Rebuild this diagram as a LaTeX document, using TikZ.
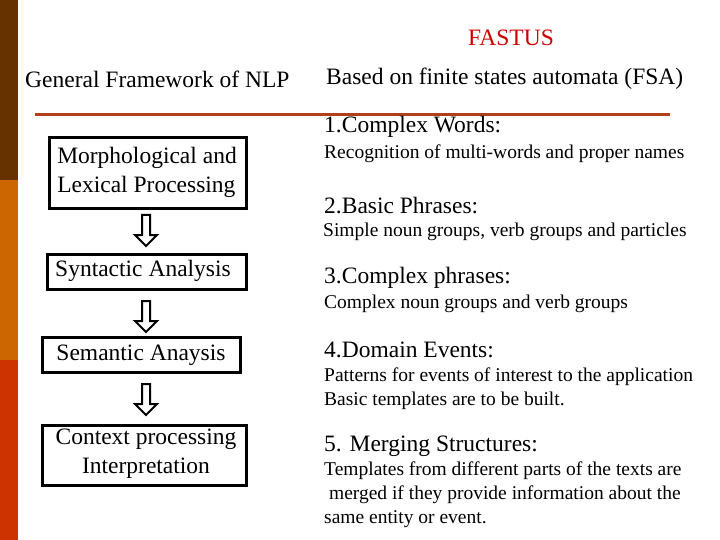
\documentclass[tikz,border=0pt]{standalone}
\usepackage{fontspec}
\setmainfont{Liberation Serif}
\begin{document}
\begin{tikzpicture}[x=1pt,y=-1pt,
 box/.style={draw=black,line width=3pt,inner sep=0pt},
 big/.style={font=\fontsize{23.5}{26}\selectfont,anchor=west,inner sep=0pt},
 small/.style={font=\fontsize{19.5}{24}\selectfont,anchor=west,inner sep=0pt,align=left},
 harrow/.style={draw=black,line width=2pt,fill=white}]
\useasboundingbox (0,0) rectangle (720,540);
\fill[white] (0,0) rectangle (720,540);
\fill[fill={rgb,255:red,102;green,51;blue,0}] (0,0) rectangle (18,180);
\fill[fill={rgb,255:red,204;green,102;blue,0}] (0,180) rectangle (18,360);
\fill[fill={rgb,255:red,204;green,51;blue,0}] (0,360) rectangle (18,540);
\node[font=\fontsize{23.5}{26}\selectfont,text={rgb,255:red,204;green,0;blue,0},inner sep=0pt] (t) at (511,38) {FASTUS};
\node[big] (h1) at (25,79) {General Framework of NLP};
\node[big] (h2) at (326,79) {Based on finite states automata (FSA)};
\coordinate (la) at (35,115); \coordinate (lb) at (670,115);
\draw[line width=3pt,draw={rgb,255:red,176;green,64;blue,24}] (la) -- (lb);
% boxes
\draw[box] (49,138) rectangle (246,209);
\node[font=\fontsize{23.5}{29}\selectfont,align=left,inner sep=0pt] (b1) at (147,172) {Morphological and\\Lexical Processing};
\draw[box] (47,254) rectangle (246,289);
\node[font=\fontsize{23.5}{26}\selectfont,inner sep=0pt] (b2) at (143,271) {Syntactic Analysis};
\draw[box] (42,337) rectangle (240,372);
\node[font=\fontsize{23.5}{26}\selectfont,inner sep=0pt] (b3) at (141,355) {Semantic Anaysis};
\draw[box] (42,425) rectangle (246,485);
\node[font=\fontsize{23.5}{29}\selectfont,align=center,inner sep=0pt] (b4) at (146,454) {Context processing\\Interpretation};
% arrows
\foreach \y in {215,301,384}{
 \draw[harrow] (142,\y) -- (150,\y) -- (150,\y+20) -- (157,\y+20) -- (146,\y+31) -- (135,\y+20) -- (142,\y+20) -- cycle;
}
% right text
\node[big] (r1) at (324,127) {1.Complex Words:};
\node[small] (s1) at (324,154) {Recognition of multi-words and proper names};
\node[big] (r2) at (324,206) {2.Basic Phrases:};
\node[small] (s2) at (323,232) {Simple noun groups, verb groups and particles};
\node[big] (r3) at (324,278) {3.Complex phrases:};
\node[small] (s3) at (324,304) {Complex noun groups and verb groups};
\node[big] (r4) at (324,350) {4.Domain Events:};
\node[small] (s4) at (324,389) {Patterns for events of interest to the application\\Basic templates are to be built.};
\node[big] (r5) at (324,446) {5. Merging Structures:};
\node[small] (s5) at (324,495) {Templates from different parts of the texts are\\\ merged if they provide information about the\\same entity or event.};
\end{tikzpicture}
\end{document}
